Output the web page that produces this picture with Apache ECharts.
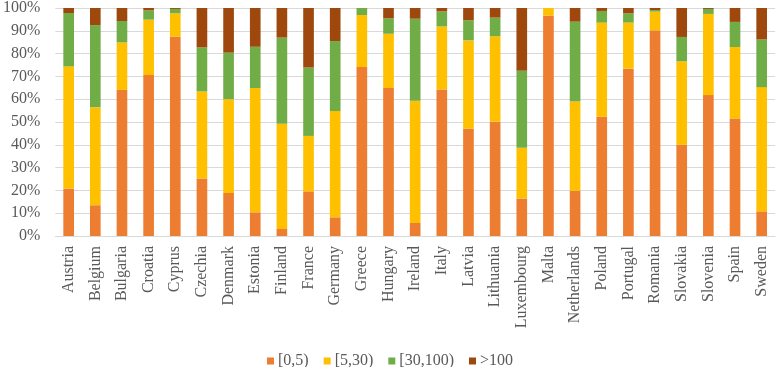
<!DOCTYPE html>
<html><head><meta charset="utf-8">
<script src="https://cdn.jsdelivr.net/npm/echarts@6/dist/echarts.min.js"></script>
<style>html,body{margin:0;padding:0;background:#fff}#c{width:780px;height:367px}</style>
</head><body><div id="c"></div>
<script>
var categories = ["Austria","Belgium","Bulgaria","Croatia","Cyprus","Czechia","Denmark","Estonia","Finland","France","Germany","Greece","Hungary","Ireland","Italy","Latvia","Lithuania","Luxembourg","Malta","Netherlands","Poland","Portugal","Romania","Slovakia","Slovenia","Spain","Sweden"];
var s0_5 =    [20.8,13.5,64.1,70.6,87.4,25.2,18.9,10.4,3.1,19.6,8.2,74.1,64.9,5.7,64.3,47.0,50.1,16.4,96.6,19.9,52.3,73.4,90.2,40.0,61.8,51.5,10.8];
var s5_30 =   [53.6,43.0,20.8,24.3,10.3,38.2,41.1,54.5,46.1,24.3,46.6,22.8,23.8,53.6,27.6,38.8,37.5,22.3,3.4,39.1,41.3,20.2,8.2,36.6,35.6,31.4,54.5];
var s30_100 = [23.4,36.0,9.4,4.1,1.9,19.3,20.4,18.1,37.8,30.0,30.7,3.1,6.8,36.0,6.6,8.8,8.2,33.8,0,35.0,5.1,4.1,0.7,10.7,2.2,11.0,20.9];
var s100 =    [2.2,7.5,5.7,1.0,0.4,17.3,19.6,17.0,13.0,26.1,14.5,0,4.5,4.7,1.5,5.4,4.2,27.5,0,6.0,1.3,2.3,0.9,12.7,0.4,6.1,13.8];
var seriesNames = ["[0,5)","[5,30)","[30,100)",">100"];
var colors = ["#ED7D31","#FFC000","#70AD47","#9E480E"];
var data = [s0_5, s5_30, s30_100, s100];
var font = "'Liberation Serif','Times New Roman',serif";
var chart = echarts.init(document.getElementById('c'));
chart.setOption({
  animation:false,
  color: colors,
  grid:{left:53,right:5,top:8,bottom:131,containLabel:false},
  legend:{top:348,left:'center',icon:'rect',itemWidth:7,itemHeight:7,itemGap:15,
    textStyle:{fontFamily:font,fontSize:16,color:'#595959',padding:[0,0,0,-1]},data:seriesNames},
  xAxis:{type:'category',data:categories,
    axisLine:{lineStyle:{color:'#d9d9d9'}},axisTick:{show:false},
    axisLabel:{rotate:90,interval:0,margin:10,fontFamily:font,fontSize:16,color:'#595959'}},
  yAxis:{type:'value',min:0,max:100,interval:10,
    axisLine:{show:false},axisTick:{show:false},
    splitLine:{lineStyle:{color:'#d9d9d9'}},
    axisLabel:{formatter:'{value}%',margin:15,fontFamily:font,fontSize:16,color:'#595959'}},
  series: seriesNames.map(function(n,i){return {name:n,type:'bar',stack:'a',barWidth:'40%',data:data[i]};})
});
</script></body></html>
